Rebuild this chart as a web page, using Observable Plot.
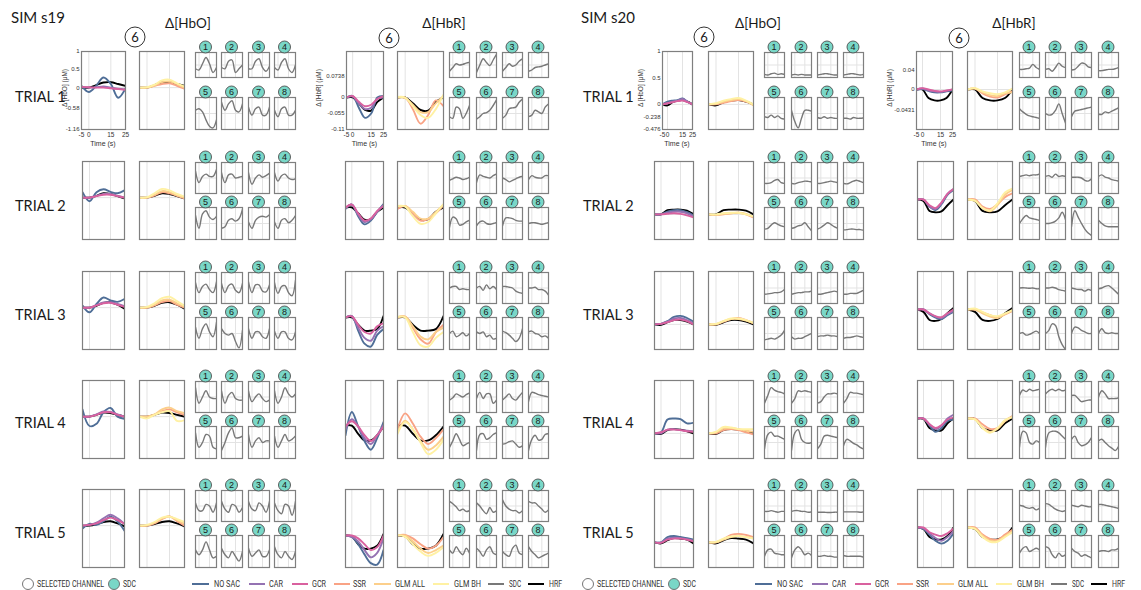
<!DOCTYPE html>
<html><head><meta charset="utf-8">
<script src="https://cdn.jsdelivr.net/npm/d3@7"></script>
<script src="https://cdn.jsdelivr.net/npm/@observablehq/plot@0.6"></script>
<style>
body{margin:0;background:#fff;}
#root{position:relative;width:1141px;height:590px;overflow:hidden;background:#fff;}
</style></head><body><div id="root"></div>
<script>
// ---------------- DATA ----------------
const TIME = [-5, 0, 5, 10, 15, 20, 25];
const X_TICKS = [-5, 0, 15, 25];
const SIMS = ["SIM s19", "SIM s20"];
const CHROMS = ["Δ[HbO]", "Δ[HbR]"];
const Y_LABELS = ["Δ [HbO] (μM)", "Δ [HbR] (μM)"];
const TRIALS = ["TRIAL 1", "TRIAL 2", "TRIAL 3", "TRIAL 4", "TRIAL 5"];
const CHANNELS = ["1", "2", "3", "4", "5", "6", "7", "8"];
const SELECTED_CHANNEL = "6";
const LEGEND_MARKERS = ["SELECTED CHANNEL", "SDC"];
const LEGEND_LINES = ["NO SAC", "CAR", "GCR", "SSR", "GLM ALL", "GLM BH", "SDC", "HRF"];

const s19_HbO_YTICKS = [1, 0.5, 0, -0.58, -1.16];
const s19_HbR_YTICKS = [0.0738, 0, -0.055, -0.11];
const s20_HbO_YTICKS = [1, 0.5, 0, -0.238, -0.476];
const s20_HbR_YTICKS = [0.04, 0, -0.0431];

// ---- SIM s19, HbO (one row per trial, values at TIME) ----
const s19_HbO_NOSAC = [
  [0.05,-0.12,0.05,0.28,0.1,-0.28,-0.02],
  [0.15,-0.1,0.15,0.23,0.16,0.12,0.2],
  [0.06,-0.13,0.1,0.28,0.2,0.16,0.24],
  [0.2,-0.26,-0.2,0.12,0.24,0.0,-0.06],
  [-0.08,0.05,0.02,0.12,0.25,0.12,-0.14]];
const s19_HbO_CAR = [
  [0.02,0.0,0.01,0.03,0.0,-0.03,-0.05],
  [0.0,0.0,0.05,0.1,0.1,0.05,0.0],
  [0.0,0.0,0.07,0.14,0.15,0.1,0.04],
  [0.0,0.0,0.06,0.14,0.13,0.06,0.0],
  [0.0,0.02,0.08,0.2,0.3,0.2,0.05]];
const s19_HbO_GCR = [
  [0.02,0.01,0.0,0.0,-0.02,-0.04,-0.06],
  [0.0,0.0,0.04,0.08,0.08,0.04,0.0],
  [0.0,0.0,0.06,0.12,0.13,0.08,0.02],
  [0.0,0.0,0.05,0.12,0.12,0.05,0.0],
  [0.0,0.02,0.06,0.15,0.22,0.15,0.05]];
const s19_HbO_SSR = [
  [0.0,0.0,0.05,0.1,0.12,0.05,-0.03],
  [0.0,0.0,0.06,0.15,0.12,0.05,-0.02],
  [0.0,0.0,0.06,0.15,0.18,0.08,0.0],
  [0.0,0.0,0.05,0.15,0.2,0.12,0.05],
  [0.0,0.0,0.06,0.18,0.26,0.12,0.0]];
const s19_HbO_GLMALL = [
  [0.0,0.0,0.06,0.15,0.17,0.1,0.0],
  [0.0,0.0,0.08,0.18,0.15,0.06,0.0],
  [0.0,0.0,0.08,0.2,0.22,0.12,0.02],
  [0.0,0.0,0.06,0.2,0.25,0.15,0.1],
  [0.0,0.0,0.08,0.2,0.25,0.15,0.05]];
const s19_HbO_GLMBH = [
  [0.0,0.01,0.08,0.2,0.22,0.12,0.03],
  [0.0,0.01,0.12,0.24,0.2,0.1,0.03],
  [0.0,0.02,0.12,0.26,0.3,0.18,0.05],
  [0.0,-0.05,0.05,0.12,0.15,-0.12,-0.1],
  [0.0,0.02,0.1,0.22,0.25,0.18,0.1]];
const s19_HbO_HRF = [
  [0.0,0.0,0.07,0.14,0.15,0.1,0.05],
  [0.0,0.0,0.05,0.12,0.1,0.04,-0.02],
  [0.0,0.0,0.05,0.13,0.15,0.08,-0.03],
  [0.0,0.0,0.05,0.11,0.1,0.05,0.0],
  [0.0,0.0,0.04,0.1,0.12,0.06,-0.02]];
const s19_HbO_SDC = [
  [[-0.3,-0.4,0.1,0.6,0.1,-0.6,-0.2],[-0.2,-0.3,0.3,0.4,-0.6,-0.3,0.0],[-0.3,-0.3,0.3,0.5,-0.2,-0.5,-0.1],[-0.2,-0.4,0.2,0.5,-0.3,-0.6,0.0],
   [0.2,0.3,0.1,-0.4,-0.8,-0.9,-0.4],[0.7,0.2,0.6,0.8,0.2,0.1,0.6],[0.4,-0.1,0.3,0.4,-0.1,-0.1,0.4],[0.2,-0.2,0.3,0.4,-0.1,-0.1,0.2]],
  [[0.45,-0.3,0.1,0.25,0.1,0.1,0.55],[0.35,-0.3,0.2,0.25,0.0,0.05,0.1],[0.35,-0.4,0.0,0.2,0.05,0.15,0.3],[0.35,-0.2,0.15,0.25,0.0,-0.1,-0.05],
   [0.5,-0.3,0.6,0.8,0.4,0.25,0.45],[-0.3,-0.2,0.2,0.3,0.15,0.3,0.9],[0.1,-0.3,0.2,0.4,0.45,0.4,0.55],[0.1,-0.3,0.2,0.3,0.05,0.2,0.5]],
  [[0.35,-0.3,0.1,0.25,-0.1,-0.3,0.4],[0.3,-0.3,0.15,0.25,-0.15,-0.3,0.3],[0.4,-0.3,0.2,0.2,-0.2,-0.25,0.2],[0.35,-0.35,0.1,0.15,-0.3,-0.5,0.5],
   [0.4,-0.3,0.3,0.6,0.1,-0.2,0.7],[0.3,0.0,-0.1,0.0,-0.5,-0.9,0.2],[0.3,-0.3,0.1,0.1,-0.2,-0.3,0.3],[0.15,-0.3,0.1,0.1,-0.3,-0.4,0.1]],
  [[0.6,-0.4,0.0,0.4,0.0,-0.1,-0.1],[0.4,-0.4,0.1,0.3,-0.1,-0.2,-0.2],[0.4,-0.3,0.0,0.2,-0.1,-0.3,-0.2],[0.4,-0.4,0.0,0.6,0.2,0.0,0.2],
   [0.6,-0.3,0.0,0.5,0.4,-0.3,-0.4],[-0.5,0.0,0.6,0.9,0.3,0.3,0.4],[0.5,-0.3,0.1,0.3,0.0,0.1,0.1],[0.4,-0.3,0.1,0.5,0.1,0.2,0.4]],
  [[0.2,-0.3,-0.3,0.1,0.0,-0.4,0.2],[0.3,-0.2,-0.4,0.1,0.0,-0.4,-0.1],[0.3,-0.2,-0.3,0.2,0.0,-0.4,0.3],[0.2,-0.3,-0.5,0.1,0.0,-0.6,0.3],
   [0.1,-0.2,0.1,0.6,0.1,-0.4,-0.3],[0.2,-0.2,-0.4,0.0,-0.3,-0.6,0.0],[0.2,-0.3,-0.1,0.1,-0.3,-0.3,0.1],[0.3,-0.2,-0.4,0.0,-0.3,-0.5,0.0]]];

// ---- SIM s19, HbR ----
const s19_HbR_NOSAC = [
  [0,0.005,-0.035,-0.07,-0.055,0.0,0.005],
  [-0.005,0.01,-0.03,-0.058,-0.045,-0.015,0.012],
  [0,0.005,-0.045,-0.09,-0.1,-0.06,-0.04],
  [-0.03,0.05,0.0,-0.05,-0.08,-0.04,0.015],
  [0,-0.005,-0.03,-0.065,-0.095,-0.1,-0.05]];
const s19_HbR_CAR = [
  [0,0.003,-0.02,-0.04,-0.035,-0.005,0.0],
  [-0.003,0.01,-0.025,-0.05,-0.04,-0.015,0.008],
  [0,0.004,-0.035,-0.07,-0.08,-0.045,-0.03],
  [-0.01,0.025,0.0,-0.04,-0.06,-0.03,0.005],
  [0,-0.005,-0.02,-0.05,-0.075,-0.06,-0.01]];
const s19_HbR_GCR = [
  [0,0.005,-0.015,-0.03,-0.025,-0.005,0.005],
  [0,0.01,-0.02,-0.045,-0.038,-0.012,0.005],
  [0,0.004,-0.025,-0.05,-0.055,-0.03,-0.02],
  [0,0.018,0.0,-0.03,-0.05,-0.03,0.0],
  [0,0.0,-0.01,-0.03,-0.05,-0.04,0.0]];
const s19_HbR_SSR = [
  [0,0,-0.04,-0.09,-0.06,-0.01,-0.03],
  [-0.005,0.005,-0.02,-0.045,-0.04,-0.02,0.008],
  [0,0.003,-0.035,-0.075,-0.09,-0.05,-0.025],
  [-0.01,0.045,0.01,-0.035,-0.06,-0.04,-0.01],
  [0,0.002,-0.01,-0.03,-0.045,-0.035,-0.005]];
const s19_HbR_GLMALL = [
  [0,-0.002,-0.025,-0.05,-0.05,-0.02,0.005],
  [0.002,0.005,-0.015,-0.038,-0.038,-0.015,0.01],
  [0,0.003,-0.03,-0.065,-0.075,-0.05,-0.035],
  [-0.02,0.02,-0.01,-0.05,-0.08,-0.065,-0.035],
  [0,0.0,-0.02,-0.045,-0.06,-0.05,-0.035]];
const s19_HbR_GLMBH = [
  [0.002,0,-0.03,-0.06,-0.07,-0.04,0.01],
  [0.005,0.003,-0.03,-0.056,-0.05,-0.02,0.012],
  [0.003,0,-0.05,-0.095,-0.1,-0.07,-0.05],
  [-0.025,0.015,-0.01,-0.055,-0.095,-0.08,-0.045],
  [0.002,-0.005,-0.03,-0.055,-0.07,-0.06,-0.04]];
const s19_HbR_HRF = [
  [0,0,-0.02,-0.043,-0.045,-0.015,0.0],
  [0,0,-0.02,-0.042,-0.04,-0.015,0.0],
  [0,0,-0.025,-0.045,-0.045,-0.04,0.005],
  [0.003,0.003,-0.025,-0.048,-0.048,-0.03,0.0],
  [0,-0.003,-0.03,-0.045,-0.045,-0.035,0.005]];
const s19_HbR_SDC = [
  [[-0.5,-0.2,0.1,0.0,0.05,0.15,0.2],[-0.6,0.0,0.5,0.2,-0.05,0.4,0.85],[-0.5,-0.2,0.1,-0.1,0.0,0.3,0.5],[-0.5,-0.4,-0.2,-0.15,-0.1,0.0,0.1],
   [-0.2,-0.3,0.4,0.3,-0.3,0.0,0.5],[-0.35,-0.2,0.0,0.05,0.2,0.5,0.85],[-0.3,-0.1,0.3,0.35,0.4,0.7,0.9],[-0.2,-0.1,0.2,0.1,0.0,0.4,0.6]],
  [[-0.15,-0.05,0.05,0.0,-0.1,-0.05,0.05],[-0.3,0.2,0.1,0.05,0.0,0.15,0.25],[0.0,-0.1,-0.25,-0.15,-0.05,0.05,0.1],[-0.1,0.15,0.05,0.0,0.0,0.15,0.15],
   [-0.25,0.4,0.3,-0.1,-0.05,0.1,0.2],[-0.15,0.1,0.15,0.0,-0.05,0.0,0.05],[-0.15,0.35,0.35,0.3,0.2,0.15,0.15],[0.0,0.05,0.05,0.0,-0.05,0.0,0.05]],
  [[0.0,0.1,0.1,-0.1,-0.05,-0.1,-0.1],[0.0,0.1,-0.15,0.2,-0.05,0.1,-0.1],[0.1,0.1,0.05,0.0,-0.2,-0.3,-0.35],[0.0,0.0,0.05,-0.1,-0.1,-0.2,-0.45],
   [0.0,0.15,-0.2,-0.1,0.05,-0.15,0.0],[0.1,0.0,0.1,-0.2,-0.1,-0.35,-0.3],[0.15,0.05,-0.1,-0.3,-0.5,-0.3,0.3],[0.1,0.15,0.0,-0.05,-0.2,-0.15,-0.3]],
  [[-0.2,-0.05,0.2,0.1,0.0,0.15,0.25],[-0.1,0.3,-0.1,0.2,0.2,-0.4,-0.2],[-0.2,0.0,0.2,-0.1,-0.2,0.05,0.3],[-0.3,0.3,0.25,0.15,0.1,0.05,0.0],
   [-0.3,0.1,0.55,0.2,-0.2,-0.1,0.0],[-0.5,0.5,0.55,0.2,0.3,0.5,0.6],[-0.1,-0.05,0.05,0.1,-0.1,-0.3,-0.2],[-0.5,0.2,0.45,0.15,0.2,0.5,0.55]],
  [[0.3,0.15,-0.05,-0.3,-0.2,-0.35,-0.3],[0.2,0.0,-0.3,-0.5,-0.1,-0.4,-0.3],[0.4,0.0,-0.2,-0.3,-0.3,-0.45,-0.3],[0.3,0.2,0.2,0.0,-0.2,-0.4,-0.25],
   [0.1,-0.1,0.3,0.0,-0.2,0.2,-0.1],[0.2,0.0,-0.3,0.1,0.3,-0.1,-0.2],[0.0,-0.2,-0.3,0.2,0.4,-0.1,-0.2],[0.3,0.0,-0.2,-0.4,-0.3,-0.2,-0.1]]];

// ---- SIM s20, HbO ----
const s20_HbO_NOSAC = [
  [0,0.05,0.07,0.08,0.11,0.05,0.0],
  [0,0.0,0.05,0.08,0.08,0.04,-0.02],
  [0,0.01,0.06,0.14,0.16,0.12,0.05],
  [0,0.02,0.26,0.28,0.27,0.19,0.2],
  [0,0.0,0.1,0.12,0.1,0.08,0.05]];
const s20_HbO_CAR = [
  [0,0.02,0.05,0.07,0.1,0.05,0.0],
  [0,0.0,0.03,0.05,0.05,0.02,-0.04],
  [0,0.01,0.05,0.11,0.12,0.08,0.02],
  [0,0.0,0.07,0.08,0.06,0.05,0.04],
  [0,0.0,0.07,0.09,0.08,0.06,0.03]];
const s20_HbO_GCR = [
  [0,0.02,0.04,0.06,0.07,0.04,0.0],
  [0,0.0,0.01,0.02,0.01,-0.02,-0.06],
  [0,0.01,0.04,0.08,0.09,0.06,0.0],
  [0,0.02,0.07,0.07,0.06,0.04,0.03],
  [0,-0.01,0.05,0.07,0.07,0.05,0.02]];
const s20_HbO_SSR = [
  [0,0.0,0.03,0.06,0.08,0.05,0.0],
  [0,-0.01,0.0,0.02,0.03,0.0,-0.06],
  [0,0.0,0.05,0.1,0.12,0.08,0.02],
  [0,0.0,0.06,0.08,0.06,0.02,-0.02],
  [0,0.0,0.06,0.14,0.16,0.14,0.1]];
const s20_HbO_GLMALL = [
  [0,0.01,0.05,0.08,0.1,0.06,-0.02],
  [0,-0.01,0.01,0.02,0.03,0.01,-0.05],
  [0,0.0,0.06,0.1,0.1,0.07,0.02],
  [0,0.02,0.09,0.1,0.08,0.05,0.03],
  [0,0.0,0.05,0.1,0.12,0.1,0.08]];
const s20_HbO_GLMBH = [
  [0,0.02,0.07,0.1,0.12,0.07,0.0],
  [0,0.0,0.02,0.03,0.03,0.0,-0.04],
  [0,0.01,0.06,0.11,0.11,0.08,0.03],
  [0,0.03,0.12,0.11,0.08,0.08,0.08],
  [0,0.01,0.07,0.11,0.12,0.1,0.07]];
const s20_HbO_HRF = [
  [0,-0.02,0.04,0.07,0.08,0.05,0.0],
  [0,0.0,0.08,0.09,0.09,0.07,0.0],
  [0,-0.01,0.04,0.08,0.08,0.05,0.0],
  [0,-0.01,0.06,0.08,0.07,0.04,0.0],
  [0,-0.02,0.04,0.08,0.07,0.05,-0.02]];
const s20_HbO_SDC = [
  [[-0.75,-0.8,-0.7,-0.65,-0.75,-0.7,-0.75],[-0.8,-0.75,-0.8,-0.75,-0.8,-0.8,-0.8],[-0.8,-0.75,-0.7,-0.7,-0.75,-0.8,-0.8],[-0.8,-0.75,-0.7,-0.7,-0.75,-0.8,-0.75],
   [-0.2,-0.25,-0.1,-0.25,-0.15,-0.3,-0.35],[0.2,-0.5,-0.9,-0.3,0.2,0.2,0.15],[-0.25,-0.3,-0.2,-0.3,-0.25,-0.3,-0.3],[-0.3,-0.3,-0.35,-0.25,-0.3,-0.3,-0.28]],
  [[-0.35,-0.35,-0.3,-0.15,-0.1,-0.3,-0.35],[-0.35,-0.38,-0.3,-0.25,-0.2,-0.22,-0.25],[-0.35,-0.35,-0.3,-0.25,-0.2,-0.25,-0.3],[-0.35,-0.38,-0.3,-0.2,-0.15,-0.22,-0.3],
   [-0.35,-0.3,-0.1,0.05,-0.05,-0.15,-0.2],[-0.3,-0.25,-0.15,-0.1,0.05,-0.2,-0.45],[-0.35,-0.25,-0.1,0.05,-0.05,-0.2,-0.3],[-0.4,-0.38,-0.35,-0.35,-0.38,-0.38,-0.42]],
  [[-0.4,-0.38,-0.35,-0.3,-0.3,-0.25,-0.1],[-0.4,-0.35,-0.3,-0.3,-0.25,-0.25,-0.2],[-0.4,-0.4,-0.35,-0.3,-0.25,-0.2,-0.25],[-0.4,-0.4,-0.35,-0.35,-0.35,-0.25,-0.15],
   [-0.4,-0.35,-0.3,-0.35,-0.25,-0.1,0.2],[-0.2,-0.35,-0.3,-0.3,-0.2,-0.1,0.0],[-0.2,-0.15,-0.15,-0.1,-0.15,-0.15,-0.2],[-0.3,-0.25,-0.25,-0.2,-0.15,-0.2,-0.25]],
  [[-0.4,0.1,0.6,0.45,0.35,0.3,0.2],[-0.4,-0.1,0.4,0.35,0.4,0.35,0.3],[-0.4,-0.3,0.0,0.2,0.2,0.25,0.2],[-0.4,-0.1,0.3,0.25,0.25,0.2,0.15],
   [-0.4,0.5,0.65,0.4,0.4,0.3,0.2],[-0.5,0.6,0.8,0.2,0.0,-0.05,0.0],[-0.4,-0.1,0.4,0.45,0.4,0.35,0.3],[-0.2,0.2,0.1,-0.05,-0.15,-0.3,-0.4]],
  [[-0.35,-0.35,-0.3,-0.35,-0.4,-0.35,-0.35],[-0.35,-0.3,-0.3,-0.35,-0.35,-0.4,-0.38],[-0.4,-0.4,-0.4,-0.42,-0.42,-0.4,-0.4],[-0.38,-0.38,-0.38,-0.38,-0.38,-0.4,-0.38],
   [-0.3,0.1,0.15,-0.1,-0.15,-0.2,-0.2],[-0.4,0.1,0.3,0.1,-0.2,-0.1,-0.25],[-0.3,-0.3,-0.25,-0.3,-0.3,-0.35,-0.35],[-0.25,-0.3,-0.3,-0.3,-0.3,-0.3,-0.35]]];

// ---- SIM s20, HbR ----
const s20_HbR_NOSAC = [
  [0,0.001,-0.003,-0.006,-0.006,-0.004,-0.002],
  [0,0.0,-0.015,-0.022,-0.01,0.01,0.02],
  [0,0.0,-0.01,-0.017,-0.02,-0.012,-0.005],
  [0,0.0,-0.015,-0.028,-0.02,-0.005,-0.002],
  [0,-0.003,-0.015,-0.028,-0.034,-0.028,-0.012]];
const s20_HbR_CAR = [
  [0,0.002,-0.002,-0.004,-0.005,-0.003,0.0],
  [0,0.0,-0.015,-0.02,-0.008,0.012,0.022],
  [0,0.0,-0.008,-0.015,-0.018,-0.01,-0.003],
  [0,0.0,-0.012,-0.022,-0.015,0.0,0.008],
  [0,-0.002,-0.012,-0.022,-0.028,-0.02,-0.008]];
const s20_HbR_GCR = [
  [0,0.003,0.0,-0.003,-0.004,-0.002,0.0],
  [0,0.0,-0.012,-0.018,-0.006,0.012,0.022],
  [0,0.0,-0.008,-0.014,-0.016,-0.008,0.0],
  [0,0.0,-0.012,-0.02,-0.014,-0.002,0.002],
  [0,0.0,-0.01,-0.015,-0.018,-0.012,-0.002]];
const s20_HbR_SSR = [
  [0,0.002,-0.008,-0.015,-0.017,-0.01,-0.004],
  [0,0.0,-0.015,-0.02,-0.01,0.005,0.013],
  [0,0.0,-0.006,-0.012,-0.016,-0.01,-0.003],
  [0,0.0,-0.012,-0.022,-0.02,-0.005,0.005],
  [0,0.0,-0.015,-0.024,-0.026,-0.015,-0.005]];
const s20_HbR_GLMALL = [
  [0,0.002,-0.006,-0.012,-0.014,-0.008,-0.006],
  [0,-0.002,-0.018,-0.025,-0.012,0.01,0.02],
  [0,0.0,-0.008,-0.015,-0.018,-0.01,-0.002],
  [0,-0.002,-0.018,-0.028,-0.022,-0.005,0.003],
  [0,-0.002,-0.017,-0.027,-0.028,-0.018,-0.008]];
const s20_HbR_GLMBH = [
  [0,0.003,-0.004,-0.008,-0.01,-0.006,0.002],
  [0,-0.003,-0.018,-0.023,-0.008,0.015,0.023],
  [0,0.002,-0.005,-0.012,-0.014,-0.008,-0.001],
  [0,-0.002,-0.02,-0.03,-0.02,-0.003,0.003],
  [0,-0.003,-0.02,-0.03,-0.03,-0.02,-0.01]];
const s20_HbR_HRF = [
  [0,0.0,-0.018,-0.023,-0.023,-0.018,0.0],
  [0,-0.003,-0.024,-0.027,-0.025,-0.012,0.0],
  [0,-0.005,-0.022,-0.024,-0.02,-0.008,0.003],
  [0,-0.001,-0.02,-0.025,-0.025,-0.01,0.0],
  [0,-0.003,-0.02,-0.025,-0.025,-0.018,0.0]];
const s20_HbR_SDC = [
  [[-0.35,-0.35,-0.3,-0.25,0.05,-0.2,-0.35],[-0.35,-0.3,-0.5,-0.2,0.15,-0.1,-0.2],[-0.4,-0.35,-0.1,0.15,0.1,-0.15,-0.2],[-0.45,-0.45,-0.4,-0.35,-0.35,-0.3,-0.2],
   [0.3,0.1,-0.05,-0.15,-0.2,-0.25,-0.3],[0.0,-0.1,-0.05,0.2,0.6,0.0,-0.6],[-0.2,0.15,0.2,0.25,0.3,0.35,0.4],[-0.05,-0.05,0.1,0.05,0.15,0.25,0.35]],
  [[0.1,0.15,0.2,0.15,0.2,0.2,0.25],[0.1,0.15,0.05,0.25,0.1,0.15,0.1],[0.05,0.05,0.05,0.0,-0.15,-0.2,-0.05],[0.1,0.2,0.05,0.0,-0.1,-0.15,-0.2],
   [0.0,0.3,0.5,0.35,0.3,0.25,0.2],[0.0,0.0,0.05,0.15,0.35,0.7,0.25],[-0.2,0.8,0.4,0.0,-0.35,-0.6,-0.75],[0.2,0.0,-0.15,-0.2,-0.2,-0.2,-0.2]],
  [[0.0,0.02,0.0,-0.02,0.0,-0.05,-0.05],[0.0,0.0,0.05,0.0,-0.1,-0.15,-0.2],[0.0,-0.05,-0.1,-0.1,-0.2,-0.1,-0.15],[-0.05,0.0,0.1,0.15,0.0,-0.2,-0.4],
   [0.0,0.05,-0.1,-0.05,0.05,0.15,0.0],[0.0,0.2,0.6,0.5,-0.2,-0.7,-1.0],[0.0,0.4,0.35,0.2,0.1,0.0,0.0],[0.0,0.3,0.05,0.0,0.05,0.0,0.0]],
  [[0.1,0.45,0.35,0.5,0.4,0.45,0.5],[0.2,0.4,0.5,0.4,0.5,0.4,0.45],[0.1,0.1,-0.1,-0.3,-0.25,-0.2,-0.2],[0.0,0.4,0.2,-0.1,-0.1,-0.1,-0.05],
   [-0.3,0.7,0.6,0.0,-0.1,0.1,0.0],[-0.3,0.6,0.7,0.7,0.6,0.4,0.2],[0.2,0.4,0.0,-0.2,-0.15,0.0,0.3],[0.1,0.2,0.0,-0.2,-0.35,-0.5,-0.25]],
  [[0.05,0.0,-0.1,-0.15,-0.1,-0.25,-0.15],[0.15,0.1,-0.05,-0.2,-0.3,-0.35,-0.3],[0.05,0.0,-0.05,0.05,0.0,-0.05,-0.05],[0.1,0.1,0.05,0.0,-0.05,-0.1,-0.15],
   [-0.1,0.2,0.3,0.0,0.1,0.2,0.1],[0.3,0.2,-0.2,-0.4,-0.1,-0.3,-0.2],[0.2,0.0,-0.1,-0.3,-0.2,-0.3,-0.4],[0.0,0.05,0.05,0.0,0.1,0.1,0.2]]];

// ---------------- STYLE / LAYOUT ----------------
const COLOR = {"NO SAC":"#4f6e97","CAR":"#9472b2","GCR":"#d9619f","SSR":"#f9a385","GLM ALL":"#fccf8b","GLM BH":"#fff1a3","SDC":"#787878","HRF":"#000000"};
const TEAL = "#79d7c7";
const TRIAL_TOP = [51, 161, 271, 380, 489];
const PANEL_H = 78;

const CELLS = [
  {sim:0, chrom:0, yTicks:s19_HbO_YTICKS, yDomain:[-1.16,1],
   A:s19_HbO_NOSAC, CAR:s19_HbO_CAR, GCR:s19_HbO_GCR, SSR:s19_HbO_SSR, GA:s19_HbO_GLMALL, GB:s19_HbO_GLMBH, HRF:s19_HbO_HRF, SDC:s19_HbO_SDC,
   pA:[82,124], pA1:[81,125], pB:[139,184], sm:[195,221,248,274], smW:21, sel:[135,37], titleX:188, ylabX:67},
  {sim:0, chrom:1, yTicks:s19_HbR_YTICKS, yDomain:[-0.11,0.158],
   A:s19_HbR_NOSAC, CAR:s19_HbR_CAR, GCR:s19_HbR_GCR, SSR:s19_HbR_SSR, GA:s19_HbR_GLMALL, GB:s19_HbR_GLMBH, HRF:s19_HbR_HRF, SDC:s19_HbR_SDC,
   pA:[345,383], pA1:[346,383], pB:[397,443], sm:[449,476,502,528], smW:20, sel:[389,38], titleX:444, ylabX:321},
  {sim:1, chrom:0, yTicks:s20_HbO_YTICKS, yDomain:[-0.476,1],
   A:s20_HbO_NOSAC, CAR:s20_HbO_CAR, GCR:s20_HbO_GCR, SSR:s20_HbO_SSR, GA:s20_HbO_GLMALL, GB:s20_HbO_GLMBH, HRF:s20_HbO_HRF, SDC:s20_HbO_SDC,
   pA:[654,693], pA1:[662,692], pB:[708,753], sm:[764,791,817,843], smW:20, sel:[704,37], titleX:758, ylabX:643},
  {sim:1, chrom:1, yTicks:s20_HbR_YTICKS, yDomain:[-0.0842,0.08],
   A:s20_HbR_NOSAC, CAR:s20_HbR_CAR, GCR:s20_HbR_GCR, SSR:s20_HbR_SSR, GA:s20_HbR_GLMALL, GB:s20_HbR_GLMBH, HRF:s20_HbR_HRF, SDC:s20_HbR_SDC,
   pA:[917,953], pA1:[916,952], pB:[967,1012], sm:[1019,1045,1071,1098], smW:20, sel:[959,38], titleX:1014, ylabX:892}
];

const root = document.getElementById("root");
const PLOT_STYLE = {background:"transparent", overflow:"visible", fontFamily:"'Liberation Sans', Arial, sans-serif", fontSize:"6px", color:"#333"};

function place(el, left, top) {
  el.style.position = "absolute";
  el.style.left = left + "px";
  el.style.top = top + "px";
  root.appendChild(el);
}

function linePanel(x0, x1, y0, y1, series, yDomain, axes) {
  const w = x1 - x0, h = y1 - y0;
  const m = axes ? {l:30, r:4, t:2, b:16} : {l:0, r:0, t:0, b:0};
  const marks = [
    Plot.ruleX([0, 15], {stroke:"#e3e3e3", strokeWidth:1}),
    Plot.ruleY([0], {stroke:"#e3e3e3", strokeWidth:1})
  ];
  for (const s of series) {
    const rows = s.values.map((v, i) => ({t: TIME[i], v}));
    marks.push(Plot.line(rows, {x:"t", y:"v", stroke:s.color, strokeWidth:s.width, curve:"catmull-rom", clip:true}));
  }
  marks.push(Plot.frame({stroke:"#7f7f7f", strokeWidth:1.2}));
  const xOpt = {domain:[-5, 25]}, yOpt = {domain:yDomain};
  if (axes) {
    marks.push(Plot.axisY(axes.yTicks, {tickSize:0, tickPadding:2, fontSize:6, tickFormat:d => String(d), label:null}));
    marks.push(Plot.axisX(X_TICKS, {tickSize:0, tickPadding:3, fontSize:6.5, tickFormat:d => String(d), label:null}));
  } else {
    xOpt.axis = null; yOpt.axis = null;
  }
  const svg = Plot.plot({width:w + m.l + m.r, height:h + m.t + m.b,
    marginLeft:m.l, marginRight:m.r, marginTop:m.t, marginBottom:m.b,
    x:xOpt, y:yOpt, style:PLOT_STYLE, marks});
  place(svg, x0 - m.l, y0 - m.t);
}

const circles = [];
for (const c of CELLS) {
  TRIALS.forEach((trial, ti) => {
    const top = TRIAL_TOP[ti];
    const hrf = {values:c.HRF[ti], color:COLOR["HRF"], width:1.9};
    const pa = ti === 0 ? c.pA1 : c.pA;
    linePanel(pa[0], pa[1], top, top + PANEL_H, [
      hrf,
      {values:c.A[ti], color:COLOR["NO SAC"], width:1.9},
      {values:c.CAR[ti], color:COLOR["CAR"], width:1.9},
      {values:c.GCR[ti], color:COLOR["GCR"], width:1.9}
    ], c.yDomain, ti === 0 ? {yTicks:c.yTicks} : null);
    linePanel(c.pB[0], c.pB[1], top, top + PANEL_H, [
      hrf,
      {values:c.SSR[ti], color:COLOR["SSR"], width:1.9},
      {values:c.GA[ti], color:COLOR["GLM ALL"], width:1.9},
      {values:c.GB[ti], color:COLOR["GLM BH"], width:1.9}
    ], c.yDomain, null);
    const rowsY = ti === 0 ? [[52, 77], [97, 129]] : [[top + 1, top + 32], [top + 46, top + 78]];
    CHANNELS.forEach((ch, ci) => {
      const r = Math.floor(ci / 4), k = ci % 4;
      const x0 = c.sm[k], x1 = x0 + c.smW;
      linePanel(x0, x1, rowsY[r][0], rowsY[r][1], [{values:c.SDC[ti][ci], color:COLOR["SDC"], width:1.4}], [-1, 1], null);
      circles.push({cx:(x0 + x1) / 2, cy:rowsY[r][0] - 5, label:ch});
    });
  });
}

// ---------------- TEXT OVERLAY ----------------
const ov = d3.create("svg").attr("width", 1141).attr("height", 590)
  .style("position", "absolute").style("left", "0px").style("top", "0px").style("overflow", "visible");

function txt(x, y, s, o = {}) {
  const t = ov.append("text").attr("x", x).attr("y", y).text(s)
    .attr("font-family", o.family || "Lato, 'Open Sans', sans-serif")
    .attr("font-size", o.size || 12)
    .attr("fill", o.fill || "#1a1a1a")
    .attr("text-anchor", o.anchor || "start");
  if (o.len) t.attr("textLength", o.len).attr("lengthAdjust", "spacingAndGlyphs");
  if (o.rotate) t.attr("transform", `rotate(-90 ${x} ${y})`);
  return t;
}

// sim titles
txt(11, 23, SIMS[0], {size:15});
txt(581, 23, SIMS[1], {size:15});

for (const c of CELLS) {
  txt(c.titleX, 28, CHROMS[c.chrom], {size:13.5, anchor:"middle"});
  ov.append("circle").attr("cx", c.sel[0]).attr("cy", c.sel[1]).attr("r", 10)
    .attr("fill", "#fff").attr("stroke", "#333").attr("stroke-width", 1);
  txt(c.sel[0], c.sel[1] + 4.5, SELECTED_CHANNEL, {size:13, anchor:"middle"});
  txt(c.ylabX, 88, Y_LABELS[c.chrom], {size:6.5, anchor:"middle", rotate:true, family:"'Liberation Sans', Arial, sans-serif", fill:"#333"});
  txt((c.pA1[0] + c.pA1[1]) / 2, 146, "Time (s)", {size:7, anchor:"middle", family:"'Liberation Sans', Arial, sans-serif", fill:"#333"});
}

// trial labels
const TRIAL_Y = [97, 206, 315, 423, 533];
TRIALS.forEach((t, i) => {
  txt(15, TRIAL_Y[i] + 5, t, {size:14.5});
  txt(583, TRIAL_Y[i] + 5, t, {size:14.5});
});

// channel circles
for (const c of circles) {
  ov.append("circle").attr("cx", c.cx).attr("cy", c.cy).attr("r", 6)
    .attr("fill", TEAL).attr("stroke", "#4d4d4d").attr("stroke-width", 0.9);
  txt(c.cx, c.cy + 3.2, c.label, {size:9, anchor:"middle", family:"'Liberation Sans', Arial, sans-serif", fill:"#1a1a1a"});
}

// legends
const LEG_Y = 584;
const LEG_ITEMS = [
  {l1:192, l2:209, tx:214, len:26},
  {l1:249, l2:265, tx:269, len:14},
  {l1:292, l2:308, tx:312, len:14},
  {l1:334, l2:350, tx:353, len:13},
  {l1:374, l2:391, tx:395, len:30},
  {l1:433, l2:449, tx:454, len:27},
  {l1:488, l2:504, tx:509, len:12},
  {l1:528, l2:544, tx:549, len:13}
];
for (const ox of [0, 563]) {
  const oc = ox === 0 ? 0 : 560;
  ov.append("circle").attr("cx", 28 + oc).attr("cy", LEG_Y).attr("r", 5.5).attr("fill", "#fff").attr("stroke", "#666").attr("stroke-width", 0.9);
  txt(37 + oc, LEG_Y + 3, LEGEND_MARKERS[0], {size:8.5, len:67, family:"Roboto, sans-serif", fill:"#333"});
  ov.append("circle").attr("cx", 114 + oc).attr("cy", LEG_Y).attr("r", 5.5).attr("fill", TEAL).attr("stroke", "#666").attr("stroke-width", 0.9);
  txt(123 + oc, LEG_Y + 3, LEGEND_MARKERS[1], {size:8.5, len:13, family:"Roboto, sans-serif", fill:"#333"});
  LEGEND_LINES.forEach((name, i) => {
    const it = LEG_ITEMS[i];
    ov.append("line").attr("x1", it.l1 + ox).attr("x2", it.l2 + ox).attr("y1", LEG_Y).attr("y2", LEG_Y)
      .attr("stroke", COLOR[name]).attr("stroke-width", 2);
    txt(it.tx + ox, LEG_Y + 3, name, {size:8.5, len:it.len, family:"Roboto, sans-serif", fill:"#333"});
  });
}

root.appendChild(ov.node());
</script></body></html>
